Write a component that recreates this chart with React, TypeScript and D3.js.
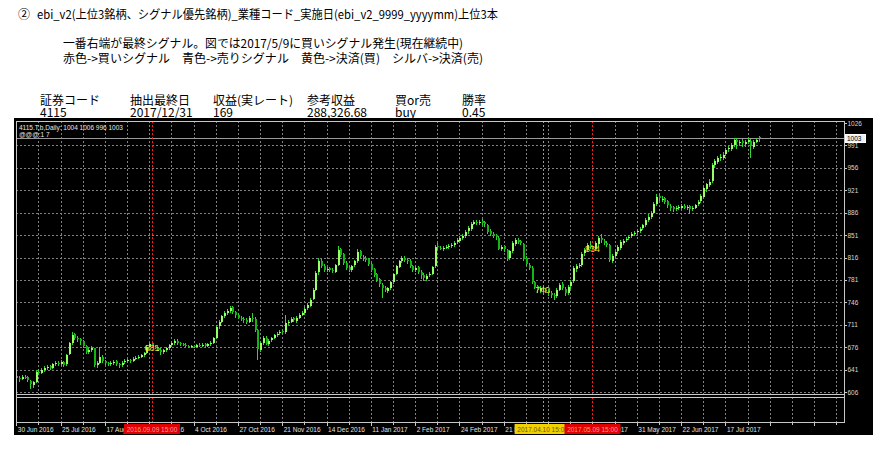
import React from "react";
import * as d3 from "d3";

// Daily OHLC for 4115.T, one entry per trading bar
const opens = [
  631, 628, 626, 630, 629, 623, 617, 622, 638, 636,
  641, 643, 646, 644, 649, 652, 650, 653, 649, 665,
  682, 696, 690, 688, 686, 678, 668, 672, 674, 648,
  651, 661, 654, 651, 650, 651, 654, 650, 648, 653,
  654, 656, 655, 658, 660, 661, 664, 667, 677, 682,
  677, 675, 672, 668, 671, 674, 679, 683, 686, 682,
  681, 680, 678, 676, 678, 676, 680, 679, 681, 678,
  681, 683, 690, 709, 716, 725, 729, 733, 738, 731,
  727, 722, 720, 719, 716, 722, 720, 703, 672, 683,
  691, 681, 687, 690, 695, 698, 701, 699, 713, 715,
  721, 717, 722, 727, 729, 737, 741, 751, 766, 793,
  811, 803, 796, 799, 797, 794, 805, 829, 821, 807,
  801, 796, 804, 810, 826, 817, 815, 813, 806, 798,
  790, 782, 773, 769, 764, 769, 777, 791, 801, 811,
  816, 812, 811, 802, 797, 801, 794, 789, 783, 788,
  791, 802, 834, 831, 830, 832, 832, 835, 836, 840,
  842, 847, 850, 857, 861, 869, 872, 870, 873, 871,
  867, 857, 853, 851, 847, 830, 834, 828, 815, 826,
  837, 844, 841, 837, 815, 805, 800, 777, 771, 764,
  769, 766, 764, 761, 758, 756, 766, 774, 767, 761,
  771, 779, 798, 803, 805, 823, 828, 836, 832, 830,
  837, 847, 842, 839, 835, 811, 819, 826, 831, 839,
  843, 846, 849, 852, 856, 857, 862, 866, 875, 879,
  886, 899, 912, 908, 909, 904, 897, 895, 891, 893,
  894, 897, 893, 896, 891, 894, 899, 904, 911, 923,
  929, 935, 961, 965, 972, 972, 977, 985, 986, 992,
  1000, 995, 998, 993, 996, 998, 989, 996, 1004,
];

const highs = [
  634, 631, 632, 633, 631, 625, 623, 640, 642, 644,
  646, 648, 648, 651, 654, 655, 656, 655, 666, 684,
  699, 698, 693, 690, 687, 680, 674, 678, 675, 655,
  676, 663, 656, 653, 655, 656, 656, 652, 654, 657,
  658, 658, 660, 662, 663, 665, 669, 679, 684, 685,
  679, 677, 674, 673, 676, 681, 685, 688, 689, 684,
  683, 682, 680, 680, 680, 681, 682, 682, 683, 683,
  685, 692, 710, 719, 727, 732, 736, 740, 740, 733,
  729, 725, 723, 721, 724, 730, 723, 705, 684, 693,
  693, 688, 692, 697, 699, 703, 703, 727, 719, 723,
  723, 724, 729, 732, 738, 745, 752, 768, 795, 815,
  813, 806, 801, 801, 799, 806, 834, 831, 823, 810,
  803, 805, 812, 829, 828, 820, 818, 815, 808, 800,
  792, 784, 776, 771, 770, 780, 792, 804, 812, 818,
  818, 815, 813, 805, 802, 803, 797, 792, 790, 793,
  803, 836, 838, 834, 834, 836, 837, 838, 842, 846,
  849, 853, 859, 865, 872, 874, 875, 875, 876, 873,
  869, 860, 856, 853, 849, 836, 836, 830, 828, 841,
  846, 847, 843, 839, 818, 808, 802, 780, 773, 771,
  772, 769, 766, 763, 761, 768, 776, 777, 770, 773,
  781, 803, 806, 808, 825, 831, 839, 842, 836, 841,
  850, 852, 845, 842, 837, 821, 828, 835, 843, 845,
  848, 851, 856, 858, 861, 864, 869, 878, 884, 889,
  903, 915, 915, 912, 911, 906, 900, 897, 897, 898,
  899, 899, 898, 898, 896, 900, 906, 915, 927, 933,
  938, 963, 970, 975, 977, 980, 987, 990, 995, 1003,
  1003, 1000, 1001, 999, 1002, 1001, 999, 1003, 1006,
];

const lows = [
  625, 622, 624, 626, 621, 611, 613, 620, 632, 634,
  638, 640, 641, 642, 646, 647, 647, 645, 647, 663,
  680, 687, 684, 680, 675, 666, 665, 669, 645, 644,
  649, 651, 648, 646, 647, 648, 646, 644, 645, 650,
  651, 652, 653, 656, 657, 659, 661, 665, 674, 674,
  673, 670, 664, 665, 669, 672, 677, 680, 680, 678,
  678, 676, 675, 674, 674, 674, 677, 677, 676, 676,
  678, 681, 688, 705, 713, 721, 726, 730, 728, 722,
  720, 717, 714, 712, 714, 716, 700, 656, 668, 679,
  679, 678, 684, 688, 692, 695, 696, 697, 710, 713,
  715, 714, 720, 724, 726, 734, 739, 749, 763, 789,
  800, 794, 793, 794, 792, 792, 803, 817, 805, 797,
  793, 794, 801, 808, 815, 811, 809, 803, 794, 786,
  778, 770, 753, 762, 761, 766, 775, 789, 799, 808,
  809, 806, 800, 793, 794, 790, 783, 779, 780, 785,
  788, 800, 828, 827, 826, 829, 829, 831, 833, 837,
  838, 843, 846, 853, 858, 866, 866, 867, 867, 864,
  853, 850, 846, 844, 827, 826, 825, 811, 812, 823,
  834, 837, 835, 811, 803, 796, 775, 767, 761, 760,
  763, 760, 756, 753, 750, 753, 763, 765, 756, 758,
  767, 776, 793, 799, 801, 818, 824, 829, 827, 826,
  834, 839, 835, 832, 809, 808, 816, 822, 828, 836,
  840, 843, 846, 849, 852, 854, 859, 863, 871, 876,
  884, 896, 904, 903, 899, 894, 889, 887, 888, 890,
  890, 891, 890, 884, 888, 891, 896, 901, 909, 919,
  926, 932, 955, 962, 966, 969, 974, 980, 983, 989,
  985, 990, 989, 988, 993, 971, 986, 994, 996,
];

const closes = [
  628, 626, 630, 629, 624, 618, 621, 638, 636, 641,
  643, 645, 644, 649, 651, 650, 653, 648, 664, 682,
  695, 690, 688, 685, 678, 669, 672, 675, 648, 652,
  660, 654, 651, 650, 652, 653, 650, 648, 652, 654,
  656, 655, 658, 659, 661, 663, 667, 677, 681, 677,
  675, 672, 669, 671, 674, 679, 683, 685, 682, 681,
  680, 678, 677, 678, 676, 679, 679, 680, 678, 681,
  682, 690, 708, 716, 724, 730, 733, 737, 731, 726,
  722, 720, 718, 716, 721, 720, 703, 673, 682, 690,
  681, 686, 690, 695, 697, 700, 699, 713, 716, 720,
  718, 722, 726, 730, 736, 742, 750, 765, 792, 810,
  803, 797, 798, 796, 795, 804, 828, 820, 808, 800,
  797, 803, 810, 825, 818, 815, 812, 806, 797, 789,
  781, 774, 768, 765, 768, 778, 790, 802, 810, 815,
  812, 810, 803, 797, 800, 794, 789, 784, 787, 790,
  801, 833, 832, 830, 831, 833, 834, 835, 839, 843,
  846, 850, 856, 862, 869, 871, 870, 872, 870, 868,
  856, 853, 850, 848, 830, 833, 829, 814, 826, 838,
  843, 840, 838, 814, 806, 799, 778, 770, 765, 768,
  767, 763, 760, 758, 757, 765, 773, 768, 760, 770,
  778, 799, 802, 804, 822, 828, 835, 833, 831, 838,
  846, 843, 838, 836, 812, 818, 825, 832, 840, 842,
  845, 848, 853, 855, 858, 861, 866, 874, 880, 885,
  900, 911, 909, 908, 903, 898, 894, 892, 894, 895,
  896, 894, 895, 892, 893, 898, 903, 912, 924, 930,
  934, 960, 966, 971, 973, 976, 984, 987, 991, 999,
  996, 997, 994, 997, 999, 990, 997, 1000, 1003,
];

// Price scale labels on the right
const priceTicks = [606, 641, 676, 711, 746, 781, 816, 851, 886, 921, 956, 991, 1026];

// Time scale labels, one every 16 bars starting at bar 0
const dateLabels = [
  "30 Jun 2016", "25 Jul 2016", "17 Aug 2016", "8 Sep 2016", "4 Oct 2016",
  "27 Oct 2016", "21 Nov 2016", "14 Dec 2016", "11 Jan 2017", "2 Feb 2017",
  "24 Feb 2017", "21 Mar 2017", "12 Apr 2017", "9 May 2017", "31 May 2017",
  "22 Jun 2017", "17 Jul 2017",
];

// Signal vertical lines: bar index, kind, time stamp, trade price text
const signalBars = [49, 190, 208];
const signalKinds = ["buy", "settle", "buy"];
const signalTimes = ["2016.09.09 15:00", "2017.04.10 15:00", "2017.05.09 15:00"];
const signalPrices = ["681", "740", "834"];

const tableHeaders = ["証券コード", "抽出最終日", "収益(実レート)", "参考収益", "買or売", "勝率"];
const tableValues = ["4115", "2017/12/31", "169", "288,326.68", "buy", "0.45"];
const tableCols = [40, 130, 213, 307, 395, 462];

const BAR_STEP = 2.77;
const FRAME = { left: 16, right: 844, top: 121, mainBottom: 394, subTop: 397, bottom: 422 };
const SMALL_FONT = "'Liberation Sans', Arial, sans-serif";
const JP_FONT = "'Noto Sans CJK JP', 'Noto Sans', sans-serif";

export default function App() {
  const x = d3.scaleLinear().domain([0, 299]).range([16.3, 16.3 + 299 * BAR_STEP]);
  const y = d3.scaleLinear().domain([606, 1026]).range([392, 123]);

  const gridBars = d3.range(8, 300, 8);
  const tickBars = d3.range(0, 300, 8);
  const last = closes.length - 1;
  const lastClose = closes[last];

  const kindStyle: Record<string, { line: string; box: string; text: string }> = {
    buy: { line: "#ff1a1a", box: "#e00000", text: "#ff9c9c" },
    settle: { line: "#c89a28", box: "#f2d000", text: "#6b5700" },
  };

  // the settle stamp goes first so the later buy stamp sits over it
  const stampOrder = [1, 0, 2];

  return (
    <svg
      width={889}
      height={460}
      style={{ position: "absolute", left: 0, top: 0, background: "#ffffff" }}
    >
      {/* Heading lines */}
      <g fontFamily={JP_FONT} fill="#000" fontSize={12}>
        <text x={18} y={13} dominantBaseline="central">②</text>
        <text x={37} y={13} dominantBaseline="central" textLength={461} lengthAdjust="spacingAndGlyphs">
          ebi_v2(上位3銘柄、シグナル優先銘柄)_業種コード_実施日(ebi_v2_9999_yyyymm)上位3本
        </text>
        <text x={63} y={42} dominantBaseline="central" textLength={400} lengthAdjust="spacingAndGlyphs">
          一番右端が最終シグナル。図では2017/5/9に買いシグナル発生(現在継続中)
        </text>
        <text x={63} y={57} dominantBaseline="central" textLength={420} lengthAdjust="spacingAndGlyphs" style={{ whiteSpace: "pre" }}>
          {"赤色->買いシグナル　青色->売りシグナル　黄色->決済(買)　シルバ->決済(売)"}
        </text>
      </g>

      {/* Summary table */}
      <g fontFamily={JP_FONT} fill="#000" fontSize={12}>
        {tableHeaders.map((h, k) => (
          <text key={"h" + k} x={tableCols[k]} y={99} dominantBaseline="central">{h}</text>
        ))}
        {tableValues.map((v, k) => (
          <text key={"v" + k} x={tableCols[k]} y={111.5} dominantBaseline="central">{v}</text>
        ))}
      </g>

      {/* Chart background */}
      <rect x={14} y={118} width={859} height={317} fill="#000" />

      {/* Grid */}
      <g stroke="#808080" strokeWidth={1} strokeDasharray="2,2" shapeRendering="crispEdges">
        {priceTicks.slice(0, -1).map((p) => (
          <line key={"gy" + p} x1={FRAME.left} x2={FRAME.right} y1={Math.round(y(p)) + 0.5} y2={Math.round(y(p)) + 0.5} />
        ))}
        {gridBars.map((b) => (
          <line key={"gx" + b} x1={Math.round(x(b)) + 0.5} x2={Math.round(x(b)) + 0.5} y1={FRAME.top} y2={FRAME.bottom} />
        ))}
      </g>

      {/* Bid line at last close */}
      <line x1={FRAME.left} x2={FRAME.right} y1={Math.round(y(lastClose)) + 0.5} y2={Math.round(y(lastClose)) + 0.5}
        stroke="#9a9a9a" strokeWidth={1} shapeRendering="crispEdges" />

      {/* Candles */}
      <g shapeRendering="crispEdges">
        {closes.map((c, i) => {
          const o = opens[i];
          const cx = Math.round(x(i));
          const up = c >= o;
          const top = y(Math.max(o, c));
          const bot = y(Math.min(o, c));
          return (
            <g key={i}>
              <line x1={cx + 0.5} x2={cx + 0.5} y1={y(highs[i])} y2={y(lows[i])} stroke="#2fd82f" strokeWidth={1} />
              <rect x={cx - 0.5} y={top} width={2} height={Math.max(1, bot - top)} fill={up ? "#9aff66" : "#14b414"} />
            </g>
          );
        })}
      </g>

      {/* Signal lines */}
      {signalBars.map((b, k) => {
        const st = kindStyle[signalKinds[k]];
        const sx = Math.round(x(b)) + 0.5;
        return (
          <line key={"sl" + k} x1={sx} x2={sx} y1={FRAME.top} y2={FRAME.bottom + 2}
            stroke={st.line} strokeWidth={1} strokeDasharray="2,2" shapeRendering="crispEdges" />
        );
      })}

      {/* Trade price texts */}
      <g fontFamily={SMALL_FONT} fontSize={9} fill="#e8e030" textAnchor="middle">
        {signalBars.map((b, k) => (
          <text key={"sp" + k} x={x(b)} y={y(closes[b]) + 1} dominantBaseline="central">{signalPrices[k]}</text>
        ))}
      </g>

      {/* Frame and sub-window separator */}
      <g fill="none" stroke="#c8c8c8" strokeWidth={1} shapeRendering="crispEdges">
        <rect x={FRAME.left + 0.5} y={FRAME.top + 0.5} width={FRAME.right - FRAME.left} height={FRAME.bottom - FRAME.top} />
        <line x1={FRAME.left} x2={FRAME.right} y1={FRAME.mainBottom + 0.5} y2={FRAME.mainBottom + 0.5} />
        <line x1={FRAME.left} x2={FRAME.right} y1={FRAME.subTop + 0.5} y2={FRAME.subTop + 0.5} />
      </g>

      {/* Chart caption */}
      <g fontFamily={SMALL_FONT} fontSize={6.5} fill="#e6e6e6" style={{ whiteSpace: "pre" }}>
        <text x={19} y={127.5} dominantBaseline="central">{`4115.T,b,Daily:  ${opens[last]} ${highs[last]} ${lows[last]} ${closes[last]}`}</text>
        <text x={19} y={134} dominantBaseline="central">{"@@@:1  7"}</text>
      </g>

      {/* Price scale */}
      <g fontFamily={SMALL_FONT} fontSize={6.5} fill="#d8d8d8">
        {priceTicks.map((p) => (
          <g key={"pt" + p}>
            <line x1={FRAME.right} x2={FRAME.right + 3} y1={Math.round(y(p)) + 0.5} y2={Math.round(y(p)) + 0.5} stroke="#c8c8c8" shapeRendering="crispEdges" />
            <text x={FRAME.right + 3.5} y={y(p)} dominantBaseline="central">{p}</text>
          </g>
        ))}
      </g>
      <rect x={845.5} y={Math.round(y(lastClose)) - 3.5} width={20} height={8} fill="#f0f0f0" stroke="#ffffff" shapeRendering="crispEdges" />
      <text x={847} y={y(lastClose) + 0.5} fontFamily={SMALL_FONT} fontSize={6.5} fill="#000" dominantBaseline="central">{lastClose}</text>

      {/* Time scale */}
      <g stroke="#c8c8c8" shapeRendering="crispEdges">
        {tickBars.map((b) => (
          <line key={"tt" + b} x1={Math.round(x(b)) + 0.5} x2={Math.round(x(b)) + 0.5} y1={FRAME.bottom} y2={FRAME.bottom + (b % 16 === 0 ? 4 : 3)} />
        ))}
      </g>
      <g fontFamily={SMALL_FONT} fontSize={6.5} fill="#e0e0e0">
        {dateLabels.map((d, k) => (
          <text key={"dl" + k} x={x(k * 16) + 1.5} y={432}>{d}</text>
        ))}
      </g>

      {/* Signal time stamps over the time scale */}
      {stampOrder.map((k) => {
        const st = kindStyle[signalKinds[k]];
        const cx = x(signalBars[k]);
        return (
          <g key={"sb" + k}>
            <rect x={cx - 28} y={424} width={56} height={10} fill={st.box} />
            <text x={cx} y={429.5} fontFamily={SMALL_FONT} fontSize={6.5} fill={st.text} textAnchor="middle" dominantBaseline="central">
              {signalTimes[k]}
            </text>
          </g>
        );
      })}
    </svg>
  );
}
